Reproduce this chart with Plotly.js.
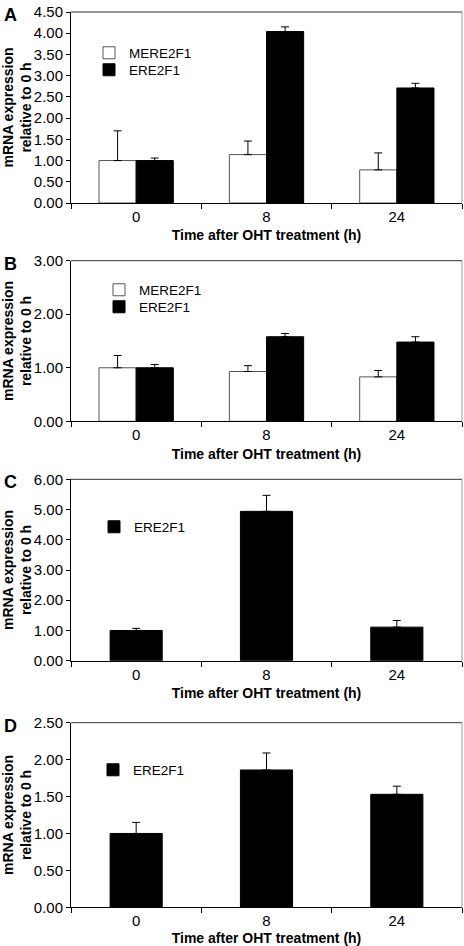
<!DOCTYPE html>
<html>
<head>
<meta charset="utf-8">
<script src="https://cdn.plot.ly/plotly-3.0.1.min.js"></script>
<style>html,body{margin:0;padding:0;background:#fff;}#chart{width:464px;height:946px;}</style>
</head>
<body>
<div id="chart"></div>
<script>
// ---- data ----
const hours = ['0', '8', '24'];

// Panel A
const aMere = [1.00, 1.14, 0.78];
const aMereErr = [0.70, 0.32, 0.40];
const aEre = [1.00, 4.04, 2.71];
const aEreErr = [0.06, 0.11, 0.11];

// Panel B
const bMere = [1.00, 0.93, 0.83];
const bMereErr = [0.23, 0.11, 0.12];
const bEre = [1.00, 1.58, 1.48];
const bEreErr = [0.06, 0.06, 0.10];

// Panel C
const cEre = [1.00, 4.94, 1.11];
const cEreErr = [0.07, 0.53, 0.22];

// Panel D
const dEre = [1.00, 1.86, 1.53];
const dEreErr = [0.15, 0.23, 0.11];

const panelLetters = ['A', 'B', 'C', 'D'];
const yTitle = 'mRNA expression<br>relative to 0 h';
const xTitle = 'Time after OHT treatment (h)';
const nameMere = 'MERE2F1';
const nameEre = 'ERE2F1';

// ---- styling ----
const FONT = 'Arial, "Liberation Sans", Helvetica, sans-serif';
const W = 464, H = 946;

function err(arr) {
  return {type: 'data', symmetric: false, array: arr, arrayminus: [0, 0, 0],
          color: '#000', thickness: 1, width: 4};
}
function whiteBar(y, e, xa, ya, leg) {
  return {type: 'bar', name: nameMere, x: hours, y: y, xaxis: xa, yaxis: ya,
          width: 0.285, offset: -0.285, legend: leg,
          marker: {color: '#ffffff', line: {color: '#555555', width: 1}},
          error_y: err(e), hoverinfo: 'y'};
}
function blackBar(y, e, xa, ya, leg, w, off) {
  return {type: 'bar', name: nameEre, x: hours, y: y, xaxis: xa, yaxis: ya,
          width: w, offset: off, legend: leg,
          marker: {color: '#000000', line: {color: '#000000', width: 1}},
          error_y: err(e), hoverinfo: 'y'};
}

const traces = [
  whiteBar(aMere, aMereErr, 'x', 'y', 'legend'),
  blackBar(aEre, aEreErr, 'x', 'y', 'legend2', 0.285, 0),
  whiteBar(bMere, bMereErr, 'x2', 'y2', 'legend3'),
  blackBar(bEre, bEreErr, 'x2', 'y2', 'legend4', 0.285, 0),
  blackBar(cEre, cEreErr, 'x3', 'y3', 'legend5', 0.4, -0.2),
  blackBar(dEre, dEreErr, 'x4', 'y4', 'legend6', 0.4, -0.2)
];

// pixel positions -> paper fractions (margins t=b=0)
function py(px) { return 1 - px / H; }
function pxx(px) { return (px - 71) / (W - 71 - 2); }

const panels = [
  {top: 12, bot: 203, max: 4.5, dtick: 0.5},
  {top: 260.7, bot: 421.3, max: 3, dtick: 1},
  {top: 479.3, bot: 660.7, max: 6, dtick: 1},
  {top: 722.7, bot: 907.3, max: 2.5, dtick: 0.5}
];

const layout = {
  width: W, height: H,
  margin: {l: 71, r: 2, t: 0, b: 0},
  paper_bgcolor: '#fff', plot_bgcolor: '#fff',
  font: {family: FONT, size: 14, color: '#000'},
  showlegend: true,
  bargap: 0, bargroupgap: 0,
  annotations: [],
  shapes: []
};

panels.forEach((p, i) => {
  const n = i === 0 ? '' : String(i + 1);
  layout['xaxis' + n] = {
    domain: [0, 1], anchor: 'y' + n, type: 'category',
    showline: true, linecolor: '#000', linewidth: 1,
    ticks: 'outside', tickson: 'boundaries', ticklen: 5, tickcolor: '#000',
    showgrid: false, zeroline: false, fixedrange: true,
    tickfont: {size: 15, family: FONT},
    title: {text: xTitle, font: {size: 14, family: FONT, weight: 'bold'}, standoff: 6}
  };
  layout['yaxis' + n] = {
    domain: [py(p.bot), py(p.top)], anchor: 'x' + n,
    range: [0, p.max], dtick: p.dtick, tick0: 0, tickformat: '.2f',
    showline: true, linecolor: '#000', linewidth: 1,
    ticks: 'outside', ticklen: 4, tickcolor: '#000',
    showgrid: false, zeroline: false, fixedrange: true,
    tickfont: {size: 15, family: FONT},
    title: {text: yTitle, font: {size: 14, family: FONT, weight: 'bold'}, standoff: 3}
  };
  // top and right frame of plot area
  layout.shapes.push({type: 'line', xref: 'x' + n + ' domain', yref: 'y' + n + ' domain',
    x0: 0, x1: 1, y0: 1, y1: 1, line: {color: '#333', width: 1}});
  layout.shapes.push({type: 'line', xref: 'x' + n + ' domain', yref: 'y' + n + ' domain',
    x0: 1, x1: 1, y0: 0, y1: 1, line: {color: '#999', width: 1}});
  layout.annotations.push({
    text: '<b>' + panelLetters[i] + '</b>', xref: 'paper', yref: 'paper',
    x: -71 / (W - 73) + 2 / (W - 73), y: py(p.top + 3), xanchor: 'left', yanchor: 'middle',
    showarrow: false, font: {size: 18, family: FONT}
  });
});

function leg(xpx, ypx) {
  return {x: pxx(xpx), y: py(ypx), xanchor: 'left', yanchor: 'middle',
          bgcolor: 'rgba(0,0,0,0)', borderwidth: 0,
          font: {size: 13.5, family: FONT}, itemclick: false, itemdoubleclick: false};
}
// text start x positions and row centres from the reference
layout.legend = leg(123 - 34, 53);
layout.legend2 = leg(123 - 34, 70);
layout.legend3 = leg(133 - 34, 290);
layout.legend4 = leg(133 - 34, 307);
layout.legend5 = leg(128 - 34, 527);
layout.legend6 = leg(127 - 34, 770);

Plotly.newPlot('chart', traces, layout, {displayModeBar: false, staticPlot: true});
</script>
</body>
</html>
